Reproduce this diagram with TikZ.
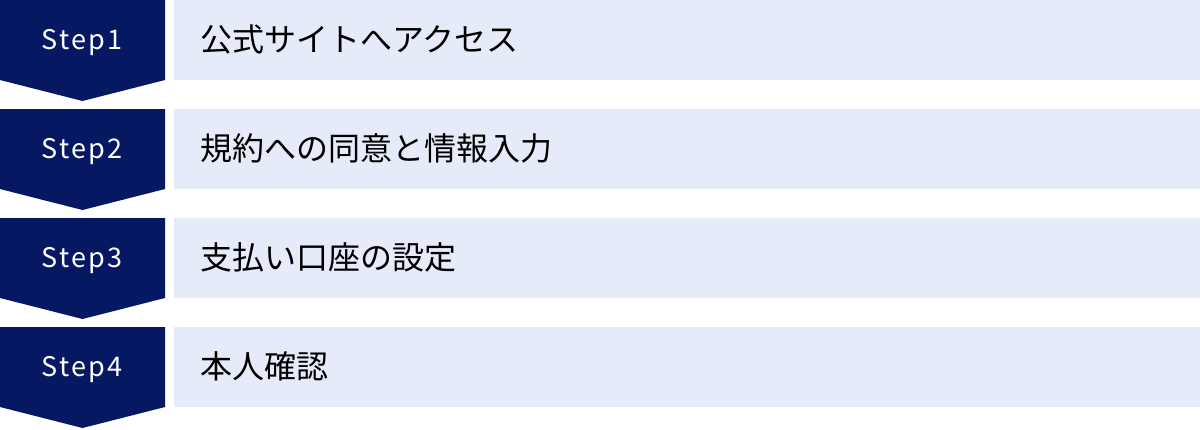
\documentclass[tikz,border=0pt]{standalone}
\usepackage{fontspec}
\setmainfont{Noto Sans CJK JP}
\definecolor{navy}{HTML}{061862}
\definecolor{lightbar}{HTML}{E5EBF8}
\tikzset{
  x=1pt,y=-1pt,
  stepshape/.style={fill=navy,draw=none},
  barshape/.style={fill=lightbar,draw=none},
  steplabel/.style={text=white,font=\fontsize{27}{32}\selectfont,inner sep=0pt,anchor=base},
  barlabel/.style={text=black,font=\fontsize{32}{38}\selectfont,inner sep=0pt,anchor=west},
}
\begin{document}
\begin{tikzpicture}
\useasboundingbox (0,0) rectangle (1200,429);
\foreach \i/\t in {0/公式サイトへアクセス,1/規約への同意と情報入力,2/支払い口座の設定,3/本人確認}{
  \pgfmathsetmacro{\yy}{\i*109}
  \fill[stepshape] (0,\yy) -- (165,\yy) -- (165,\yy+80) -- (82.5,\yy+101) -- (0,\yy+80) -- cycle;
  \fill[barshape] (174,\yy) rectangle (1200,\yy+80);
  \pgfmathtruncatemacro{\n}{\i+1}
  \node[steplabel] (s\n) at (82,\yy+49.5) {\addfontfeature{LetterSpace=8}Step\n};
  \node[barlabel] (b\n) at (200,\yy+39) {\t};
}
\end{tikzpicture}
\end{document}
